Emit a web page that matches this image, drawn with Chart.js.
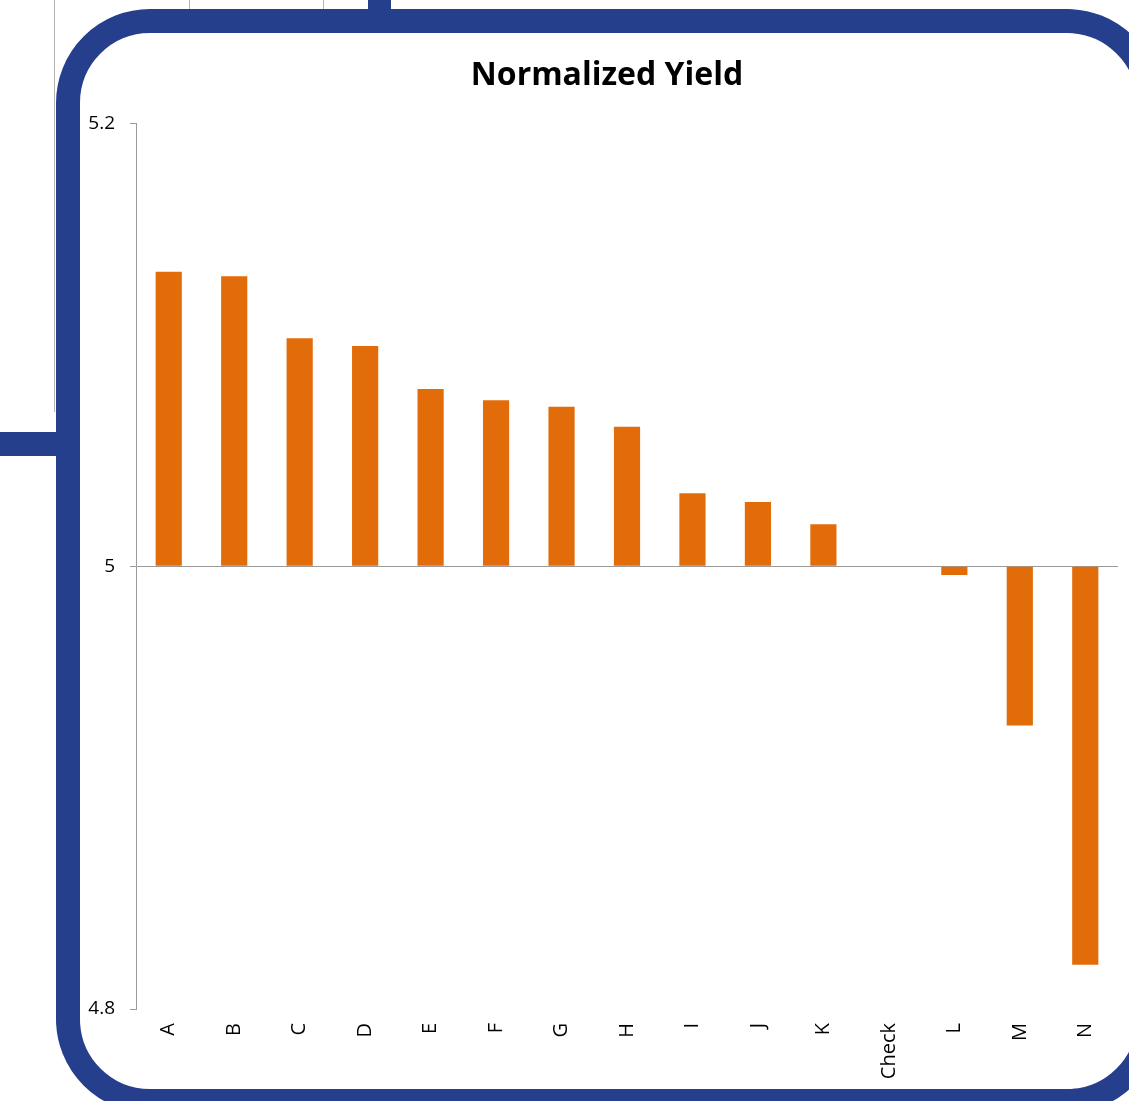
<!DOCTYPE html>
<html>
<head>
<meta charset="utf-8">
<title>Normalized Yield</title>
<script src="https://cdn.jsdelivr.net/npm/chart.js@4.4.1/dist/chart.umd.min.js"></script>
<style>
  html, body { margin: 0; padding: 0; background: #ffffff; overflow: hidden; }
  #stage { position: relative; width: 1129px; height: 1101px; overflow: hidden; background: #ffffff; }
  #chart { position: absolute; left: 0; top: 0; }
  .rule { position: absolute; background: #b4b4b4; }
  .bar { position: absolute; background: #263f8d; }
  #frame {
    position: absolute; left: 56px; top: 8.5px;
    width: 1105px; height: 1104px;
    box-sizing: border-box;
    border: 24px solid #263f8d;
    border-radius: 94px;
    pointer-events: none;
  }
</style>
</head>
<body>
<div id="stage">
  <div class="rule" style="left:54px; top:0; width:1px; height:412px;"></div>
  <div class="rule" style="left:189px; top:0; width:1px; height:10px;"></div>
  <div class="rule" style="left:323px; top:0; width:1px; height:10px;"></div>
  <div class="bar" style="left:368px; top:0; width:23px; height:20px;"></div>
  <div class="bar" style="left:0; top:432px; width:60px; height:24px;"></div>
  <canvas id="chart" width="1138" height="1101"></canvas>
  <div id="frame"></div>
</div>
<script>
// Entries, in the order they are ranked
const categories = ['A', 'B', 'C', 'D', 'E', 'F', 'G', 'H', 'I', 'J', 'K', 'Check', 'L', 'M', 'N'];
// Normalized yield per entry
const yieldValues = [5.133, 5.131, 5.103, 5.0995, 5.080, 5.075, 5.072, 5.063, 5.033, 5.029, 5.019, 5.000, 4.996, 4.928, 4.820];
// Value axis ticks and the level the bars hang from
const yTicks = [4.8, 5, 5.2];
const baseline = 5;

const axisGray = '#9a9a9a';
const barOrange = '#e36c0a';

new Chart(document.getElementById('chart'), {
  type: 'bar',
  data: {
    labels: categories,
    datasets: [{
      label: 'Normalized Yield',
      data: yieldValues,
      base: baseline,
      backgroundColor: barOrange,
      borderWidth: 0,
      categoryPercentage: 1,
      barPercentage: 0.4
    }]
  },
  options: {
    responsive: false,
    animation: false,
    events: [],
    layout: { padding: { left: 76, right: 0, top: 0, bottom: 0 } },
    plugins: {
      legend: { display: false },
      tooltip: { enabled: false },
      title: {
        display: true,
        text: 'Normalized Yield',
        color: '#000000',
        font: { family: 'Open Sans', size: 32, weight: 'bold' },
        padding: { top: 57, bottom: 28 }
      }
    },
    scales: {
      x: {
        grid: { display: false, drawTicks: false },
        border: { display: false },
        ticks: {
          color: '#000000',
          font: { family: 'Open Sans', size: 20 },
          minRotation: 90,
          maxRotation: 90,
          autoSkip: false,
          padding: 14
        },
        afterFit: (scale) => { scale.height = 92; }
      },
      y: {
        min: 4.8,
        max: 5.2,
        afterBuildTicks: (scale) => { scale.ticks = yTicks.map(v => ({ value: v })); },
        grid: {
          color: (ctx) => (ctx.tick && ctx.tick.value === baseline ? axisGray : 'rgba(0,0,0,0)'),
          tickColor: axisGray,
          tickLength: 6,
          lineWidth: 1
        },
        border: { display: true, color: axisGray, width: 1 },
        ticks: {
          color: '#000000',
          font: { family: 'Open Sans', size: 19 },
          padding: 15,
          callback: (v) => String(Number(Number(v).toFixed(1)))
        },
        afterFit: (scale) => { scale.width = 60; }
      },
      // empty margin on the right so the title sits left of the plot centre
      gutter: {
        position: 'right',
        display: true,
        grid: { display: false, drawTicks: false },
        border: { display: false },
        ticks: { display: false },
        afterFit: (scale) => { scale.width = 20; }
      }
    }
  }
});
</script>
</body>
</html>
